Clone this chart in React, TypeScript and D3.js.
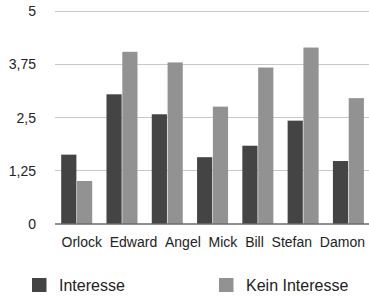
import React, { useRef, useEffect } from 'react';
import * as d3 from 'd3';

const names = ['Orlock', 'Edward', 'Angel', 'Mick', 'Bill', 'Stefan', 'Damon'];
const seriesNames = ['Interesse', 'Kein Interesse'];
const interesse = [1.62, 3.04, 2.57, 1.56, 1.83, 2.42, 1.47];
const keinInteresse = [1.0, 4.04, 3.79, 2.75, 3.67, 4.14, 2.95];
const yTicks = [0, 1.25, 2.5, 3.75, 5];
const colors = ['#444444', '#929292'];

export default function App() {
  const ref = useRef<SVGSVGElement>(null);

  useEffect(() => {
    if (!ref.current) return;
    const svg = d3.select(ref.current);
    svg.selectAll('*').remove();

    const font = 'Helvetica, Arial, "Liberation Sans", sans-serif';
    const left = 55;
    const right = 369;

    const x = d3.scaleBand<string>().domain(names).range([54, 371]).padding(0);
    const x1 = d3.scaleBand<string>().domain(seriesNames).range([7.2, 38.2]).paddingInner(0.04);
    const y = d3.scaleLinear().domain([0, 5]).range([223.5, 11]);

    // grid
    svg.append('g')
      .selectAll('line')
      .data(yTicks.filter(t => t > 0))
      .enter()
      .append('line')
      .attr('x1', left)
      .attr('x2', right)
      .attr('y1', d => Math.round(y(d)) + 0.5)
      .attr('y2', d => Math.round(y(d)) + 0.5)
      .attr('stroke', '#c8c8c8')
      .attr('stroke-width', 1);

    // y labels
    svg.append('g')
      .selectAll('text')
      .data(yTicks)
      .enter()
      .append('text')
      .attr('x', 36)
      .attr('y', d => y(d))
      .attr('dy', '0.38em')
      .attr('text-anchor', 'end')
      .attr('font-family', font)
      .attr('font-size', 14)
      .attr('fill', '#222')
      .text(d => String(d).replace('.', ','));

    // bars
    const rows = names.map((n, i) => ({ name: n, values: [interesse[i], keinInteresse[i]] }));
    const groups = svg.append('g')
      .selectAll('g')
      .data(rows)
      .enter()
      .append('g')
      .attr('transform', d => `translate(${x(d.name)},0)`);

    groups.selectAll('rect')
      .data(d => d.values.map((v, j) => ({ key: seriesNames[j], v, j })))
      .enter()
      .append('rect')
      .attr('x', d => x1(d.key) as number)
      .attr('width', x1.bandwidth())
      .attr('y', d => y(d.v))
      .attr('height', d => y(0) - y(d.v))
      .attr('fill', d => colors[d.j]);

    // zero axis
    svg.append('line')
      .attr('x1', left)
      .attr('x2', right)
      .attr('y1', 224)
      .attr('y2', 224)
      .attr('stroke', '#222')
      .attr('stroke-width', 1.2);

    // x labels, laid out in a row like the original
    const labels = svg.append('g')
      .selectAll('text')
      .data(names)
      .enter()
      .append('text')
      .attr('y', 242)
      .attr('dy', '0.35em')
      .attr('font-family', font)
      .attr('font-size', 14)
      .attr('fill', '#222')
      .text(d => d);

    const widths: number[] = [];
    labels.each(function () {
      widths.push((this as SVGTextElement).getComputedTextLength());
    });
    const startX = 61.5;
    const endX = 365;
    const gap = (endX - startX - d3.sum(widths)) / (names.length - 1);
    let cx = startX;
    labels.attr('x', (_, i) => {
      const p = cx;
      cx += widths[i] + gap;
      return p;
    });

    // legend
    const legendX = [32, 219];
    const leg = svg.append('g')
      .selectAll('g')
      .data(seriesNames)
      .enter()
      .append('g')
      .attr('transform', (_, i) => `translate(${legendX[i]},278)`);
    leg.append('rect')
      .attr('width', 14.5)
      .attr('height', 14)
      .attr('fill', (_, i) => colors[i]);
    leg.append('text')
      .attr('x', 27)
      .attr('y', 7)
      .attr('dy', '0.36em')
      .attr('font-family', font)
      .attr('font-size', 16)
      .attr('fill', '#222')
      .text(d => d);
  }, []);

  return (
    <svg
      ref={ref}
      width={369}
      height={296}
      style={{ position: 'absolute', left: 0, top: 0, background: '#fff' }}
    />
  );
}
